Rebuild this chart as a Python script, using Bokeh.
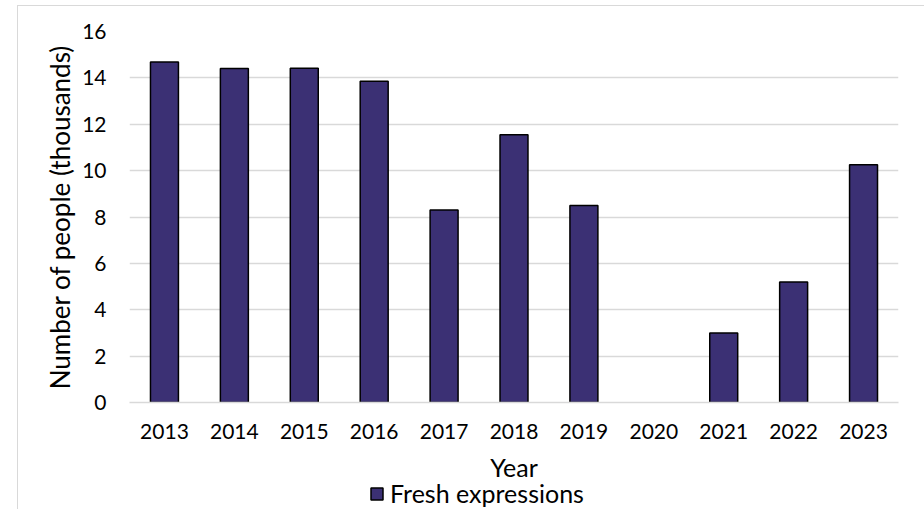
from bokeh.plotting import figure
from bokeh.layouts import column
from bokeh.models import ColumnDataSource, Legend, LegendItem, FactorRange, Range1d, FixedTicker
from bokeh.embed import file_html
from bokeh.resources import INLINE

years = ["2013", "2014", "2015", "2016", "2017", "2018", "2019", "2020", "2021", "2022", "2023"]
fresh_expressions = [14.68, 14.4, 14.42, 13.85, 8.3, 11.55, 8.5, float("nan"), 3.0, 5.2, 10.25]
y_ticks = [0, 2, 4, 6, 8, 10, 12, 14, 16]
series_name = "Fresh expressions"

FONT = "Lato"
BAR_COLOR = "#3B3074"
source = ColumnDataSource(dict(year=years, value=fresh_expressions))

p = figure(x_range=FactorRange(*years, range_padding=0), y_range=Range1d(0, 16),
           width=906, height=478, output_backend="svg", toolbar_location=None,
           min_border_left=111, min_border_right=26, min_border_top=25, min_border_bottom=80)
p.outline_line_color = None

p.vbar(x="year", top="value", width=0.4, source=source,
       fill_color=BAR_COLOR, line_color="#000000", line_width=1.5)

p.yaxis.ticker = FixedTicker(ticks=y_ticks)
p.ygrid.grid_line_color = "#d9d9d9"
p.ygrid.grid_line_width = 1.5
p.xgrid.grid_line_color = None

for ax in (p.xaxis, p.yaxis):
    ax.major_tick_line_color = None
    ax.minor_tick_line_color = None
    ax.major_label_text_font = FONT
    ax.major_label_text_font_size = "21px"
    ax.major_label_text_color = "#000000"
    ax.axis_label_text_font = FONT
    ax.axis_label_text_font_size = "25px"
    ax.axis_label_text_font_style = "normal"
    ax.axis_label_text_color = "#000000"

p.yaxis.axis_line_color = None
p.yaxis.axis_label = "Number of people (thousands)"
p.yaxis.axis_label_text_font_size = "26px"
p.yaxis.major_label_standoff = 17
p.yaxis.axis_label_standoff = 3

p.xaxis.axis_line_color = "#d9d9d9"
p.xaxis.axis_line_width = 1.5
p.xaxis.axis_label = "Year"
p.xaxis.major_label_standoff = 15
p.xaxis.axis_label_standoff = 10

# legend strip below the chart (its frame lines up with the chart's frame)
pl = figure(x_range=FactorRange(*years, range_padding=0), y_range=Range1d(0, 16),
            width=906, height=32, output_backend="svg", toolbar_location=None,
            x_axis_type=None, y_axis_type=None, min_border=0)
pl.outline_line_color = None
pl.background_fill_alpha = 0
pl.border_fill_alpha = 0
pl.xgrid.visible = False
pl.ygrid.visible = False
# hidden renderer that only supplies the legend key's style
key = pl.vbar(x="year", top="value", width=0.4, source=source,
              fill_color=BAR_COLOR, line_color="#000000", line_width=1.5, visible=False)
legend = Legend(items=[LegendItem(label=series_name, renderers=[key])],
                location=(240, 1), orientation="horizontal",
                label_text_font=FONT, label_text_font_size="25px", label_text_color="#000000",
                glyph_width=15, glyph_height=15, label_standoff=6,
                padding=0, margin=0, spacing=0, inactive_fill_alpha=0,
                border_line_color=None, background_fill_alpha=0)
pl.add_layout(legend, "center")
pl.margin = (-7, 0, 0, 0)

layout = column(p, pl, spacing=0)
layout.margin = (5, 0, 0, 17)
layout.styles = {"border-left": "1px solid #d9d9d9", "border-top": "1px solid #d9d9d9",
                 "border-right": "1px solid #d9d9d9"}

open("out.html", "w").write(file_html(layout, INLINE))
